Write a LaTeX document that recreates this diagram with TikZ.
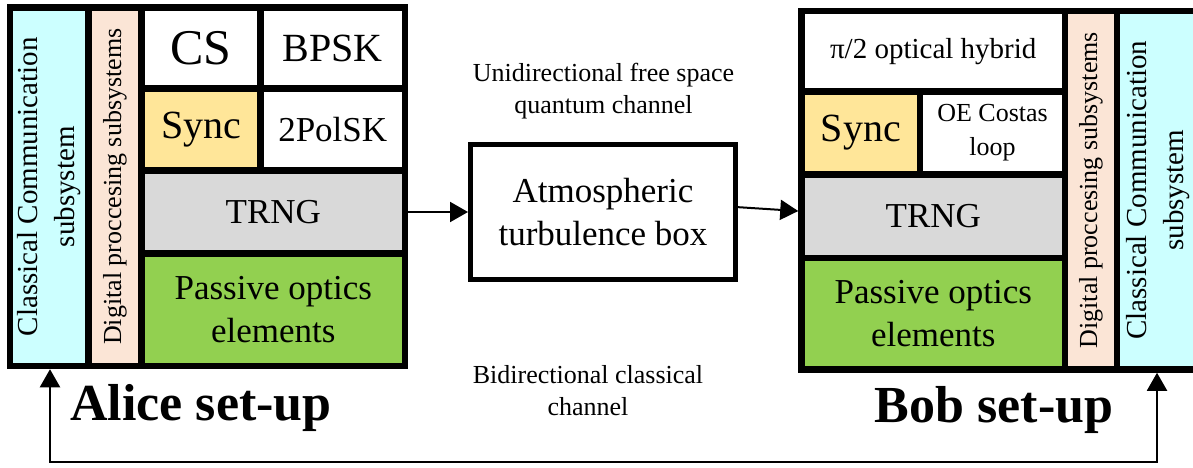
\documentclass[tikz,border=0pt]{standalone}
\usepackage{fontspec}
\setmainfont{Liberation Serif}
\usetikzlibrary{arrows.meta}
\definecolor{ccyan}{HTML}{CCFFFF}
\definecolor{cpeach}{HTML}{FBE5D6}
\definecolor{cyellow}{HTML}{FFE699}
\definecolor{cgray}{HTML}{D9D9D9}
\definecolor{cgreen}{HTML}{92D050}
\tikzset{
  cell/.style={draw=black, line width=6.5pt, rectangle, inner sep=0pt, outer sep=0pt, align=center, text=black},
  arr/.style={line width=2pt, -{Triangle[length=18pt,width=20pt]}},
  loop/.style={line width=2pt, {Triangle[length=18pt,width=20pt]}-{Triangle[length=18pt,width=20pt]}},
  lbl/.style={align=center, inner sep=0pt, text=black}
}
\begin{document}
\begin{tikzpicture}[x=1pt,y=-1pt]
\useasboundingbox (0,0) rectangle (1193,468);
% Alice
\node[cell, fill=ccyan, rotate=90, minimum width=358.5pt, minimum height=78.5pt,
  font=\fontsize{29}{37}\selectfont] (cyanA) at (49.25,186.75) {Classical Communication\\subsystem};
\node[cell, fill=cpeach, rotate=90, minimum width=358.5pt, minimum height=53pt,
  font=\fontsize{26}{32}\selectfont] (peachA) at (115,186.75) {Digital proccesing subsystems};
\node[cell, fill=white, minimum width=119pt, minimum height=81pt, font=\fontsize{50}{60}\selectfont] (csA) at (201,48) {CS};
\node[cell, fill=white, minimum width=144.5pt, minimum height=81pt, font=\fontsize{40}{48}\selectfont] (bpskA) at (332.75,48) {BPSK};
\node[cell, fill=cyellow, minimum width=119pt, minimum height=82pt, font=\fontsize{40}{48}\selectfont] (syncA) at (201,129.5) {Sync};
\node[cell, fill=white, minimum width=144.5pt, minimum height=82pt, font=\fontsize{35}{42}\selectfont] (polA) at (332.75,129.5) {2PolSK};
\node[cell, fill=cgray, minimum width=263.5pt, minimum height=83pt, font=\fontsize{35}{42}\selectfont] (trngA) at (273.25,212) {TRNG};
\node[cell, fill=cgreen, minimum width=263.5pt, minimum height=112.5pt, font=\fontsize{35}{43}\selectfont] (passA) at (273.25,309.75) {Passive optics\\elements};
% Bob
\node[cell, fill=white, minimum width=263.5pt, minimum height=80.5pt, font=\fontsize{29}{35}\selectfont] (hybB) at (933.25,51.25) {π/2 optical hybrid};
\node[cell, fill=cyellow, minimum width=118.5pt, minimum height=83pt, font=\fontsize{40}{48}\selectfont] (syncB) at (860.75,133) {Sync};
\node[cell, fill=white, minimum width=145pt, minimum height=83pt, font=\fontsize{26}{34}\selectfont] (costB) at (992.5,133) {OE Costas\\loop};
\node[cell, fill=cgray, minimum width=263.5pt, minimum height=83.5pt, font=\fontsize{35}{42}\selectfont] (trngB) at (933.25,216.25) {TRNG};
\node[cell, fill=cgreen, minimum width=263.5pt, minimum height=111.5pt, font=\fontsize{35}{43}\selectfont] (passB) at (933.25,313.75) {Passive optics\\elements};
\node[cell, fill=cpeach, rotate=90, minimum width=358.5pt, minimum height=52pt,
  font=\fontsize{26}{32}\selectfont] (peachB) at (1091,190.25) {Digital proccesing subsystems};
\node[cell, fill=ccyan, rotate=90, minimum width=358.5pt, minimum height=83pt,
  font=\fontsize{29}{37}\selectfont] (cyanB) at (1158.5,190.25) {Classical Communication\\subsystem};
% channel
\node[cell, fill=white, line width=5pt, minimum width=265pt, minimum height=135pt, font=\fontsize{35}{43}\selectfont] (atm) at (603,212) {Atmospheric\\turbulence box};
\node[lbl, font=\fontsize{26}{32}\selectfont] (uni) at (603.5,91) {Unidirectional free space\\quantum channel};
\node[lbl, font=\fontsize{26}{32}\selectfont] (bi) at (588,391) {Bidirectional classical\\channel};
\node[lbl, anchor=base, font=\fontsize{52}{60}\selectfont\bfseries] (alice) at (201,420) {Alice set-up};
\node[lbl, anchor=base, font=\fontsize{52}{60}\selectfont\bfseries] (bob) at (994,422) {Bob set-up};
% connectors
\draw[arr, shorten >=2.5pt] (trngA.east) -- (atm.west);
\draw[arr, shorten >=3.25pt] ([yshift=5pt]atm.east) -- ([yshift=5pt]trngB.west);
\coordinate (la) at (50,462);
\coordinate (lb) at (1157,462);
\draw[loop, shorten <=3.25pt, shorten >=3.25pt] (la |- cyanA.west) -- (la) -- (lb) -- (lb |- cyanB.west);
\end{tikzpicture}
\end{document}
